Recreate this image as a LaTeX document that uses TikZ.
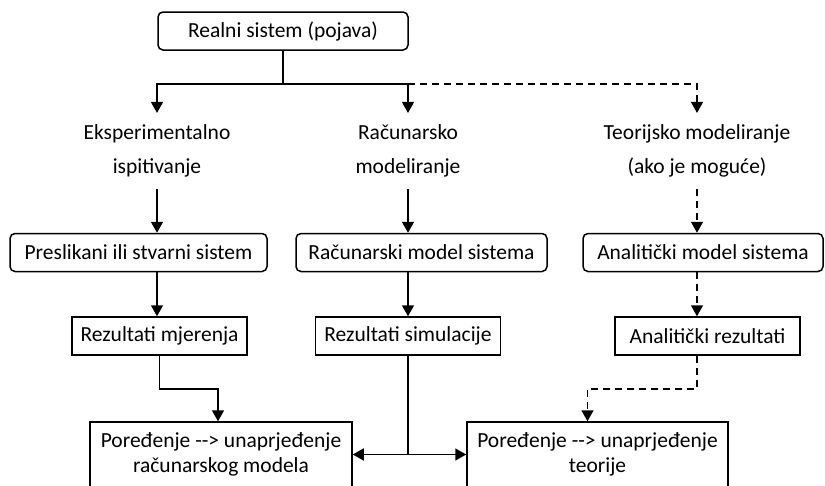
\documentclass[tikz,border=0pt]{standalone}
\usepackage{fontspec}
\setmainfont{Carlito}
\usetikzlibrary{arrows.meta}

\begin{document}
\begin{tikzpicture}[x=1pt,y=-1pt,line width=1.5pt,>={Triangle[width=12pt,length=11pt]},
  font=\fontsize{21.5}{34}\selectfont]

%
% Styles
%
\tikzstyle{rbox} = [rectangle,draw,rounded corners=5pt,minimum height=38pt,inner sep=0pt]
\tikzstyle{sbox} = [rectangle,draw,minimum height=38pt,inner sep=0pt]
\tikzstyle{txt}  = [align=center,inner xsep=0pt,inner ysep=11pt]
\tikzstyle{cbox} = [rectangle,draw,align=center,minimum height=65pt,inner sep=0pt,
                    font=\fontsize{21.5}{25}\selectfont]
\tikzstyle{opt}  = [dash pattern=on 7pt off 5pt]

\useasboundingbox (0,0) rectangle (825,485);

\node[rbox,minimum width=250pt] (real) at (283,31)  {Realni sistem (pojava)};

\node[txt] (eks) at (157,151) {Eksperimentalno\\ispitivanje};
\node[txt] (rac) at (408,151) {Računarsko\\modeliranje};
\node[txt] (teo) at (697,151) {Teorijsko modeliranje\\(ako je moguće)};

\node[rbox,minimum width=257pt] (pres) at (138.5,252.5) {Preslikani ili stvarni sistem};
\node[rbox,minimum width=251pt] (racm) at (421.5,252.5) {Računarski model sistema};
\node[rbox,minimum width=240pt] (anm)  at (703,252.5)   {Analitički model sistema};

\node[sbox,minimum width=175pt] (mjer) at (159.5,336) {Rezultati mjerenja};
\node[sbox,minimum width=185pt] (sim)  at (408,336)   {Rezultati simulacije};
\node[sbox,minimum width=185pt] (anr)  at (707.5,336) {Analitički rezultati};

\node[cbox,minimum width=262pt] (por1) at (221,454.5)   {Poređenje -{}-> unaprjeđenje\\računarskog modela};
\node[cbox,minimum width=261pt] (por2) at (597.5,454.5) {Poređenje -{}-> unaprjeđenje\\teorije};

\coordinate (split) at (283,84);

\draw (real) -- (split);
\draw[->] (split) -| (eks);
\draw[->] (split) -| (rac);
\draw[->,opt] (split -| rac) -| (teo);

\draw[->] (eks) -- (eks |- pres.north);
\draw[->] (eks |- pres.south) -- (eks |- mjer.north);
\draw[->] (mjer.south) -- ++(0,33) -| ([xshift=-3pt]por1.north);

\draw[->] (rac) -- (rac |- racm.north);
\draw[->] (rac |- racm.south) -- (sim);
\draw[->] (sim) |- (por1);
\draw[->] (sim) |- (por2);

\draw[->,opt] (teo) -- (teo |- anm.north);
\draw[->,opt] (teo |- anm.south) -- (teo |- anr.north);
\draw[->,opt] (anr.south -| teo) -- ++(0,33) -| ([xshift=-10pt]por2.north);

\end{tikzpicture}
\end{document}
